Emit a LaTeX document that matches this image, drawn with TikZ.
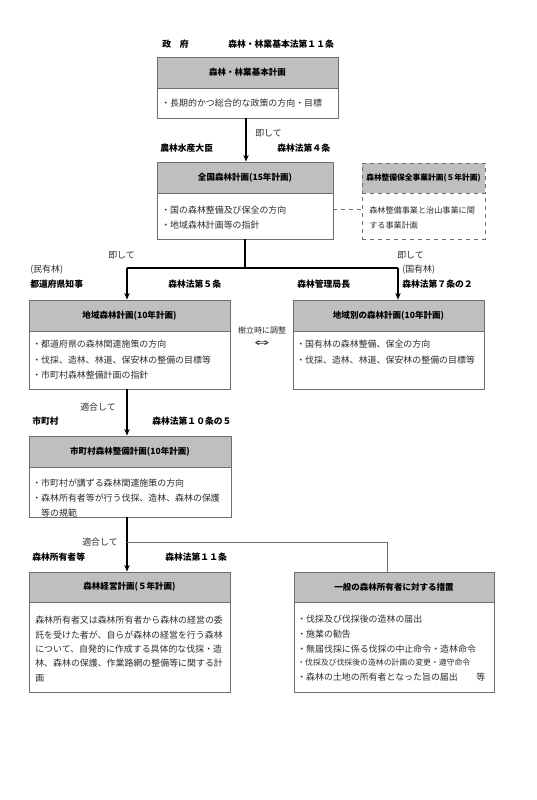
\documentclass[tikz,border=0pt]{standalone}
\usepackage{fontspec}
\setmainfont{Noto Sans CJK JP}
\newfontfamily\symf{DejaVu Sans}
\usetikzlibrary{fit,arrows.meta}
\definecolor{hdrgray}{RGB}{191,191,191}
\definecolor{edge}{RGB}{110,110,110}
\definecolor{txt}{RGB}{45,45,45}
\tikzset{
 hdr/.style={draw=edge, fill=hdrgray, line width=0.6pt, inner sep=0pt},
 htxt/.style={anchor=center, inner sep=0pt, font=\fontsize{6.4pt}{8pt}\selectfont\bfseries},
 bodybox/.style={draw=edge, fill=white, line width=0.6pt, inner sep=0pt},
 btxt/.style={anchor=west, inner sep=0pt, font=\fontsize{6.7pt}{8pt}\selectfont, text=txt},
 stxt/.style={anchor=west, inner sep=0pt, font=\fontsize{5.9pt}{8pt}\selectfont, text=txt},
 ctxt/.style={anchor=center, inner sep=0pt, font=\fontsize{6.0pt}{8pt}\selectfont, text=txt},
 lbl/.style={anchor=west, inner sep=0pt, font=\fontsize{6.6pt}{8pt}\selectfont\bfseries},
 arr/.style={line width=1.3pt, -{Stealth[length=5pt,width=4pt]}},
 trunk/.style={line width=1.3pt},
 thin/.style={draw=edge, line width=0.6pt},
}
\begin{document}
\begin{tikzpicture}[x=0.75pt,y=-0.75pt]
\useasboundingbox[fill=white] (0,0) rectangle (536,800);

% labels top
\node[lbl] (l1) at (162,44) {政　府};
\node[lbl] (l2) at (228,44) {森林・林業基本法第１１条};

% box 1
\node[bodybox, fit={(157,88) (338,118)}] (b1) {};
\node[hdr, fit={(157,57) (338,88)}] (h1) {};
\node[htxt] (ht1) at (h1.center) {森林・林業基本計画};
\node[btxt] (t1) at (161,103) {・長期的かつ総合的な政策の方向・目標};

\node[btxt] (s1) at (255,133) {即して};
\node[lbl] (l3) at (160,148) {農林水産大臣};
\node[lbl] (l4) at (277,148) {森林法第４条};

% box 2
\node[bodybox, fit={(157,193) (333,239)}] (b2) {};
\node[hdr, fit={(157,162) (333,193)}] (h2) {};
\node[htxt] (ht2) at (h2.center) {全国森林計画(15年計画)};
\node[btxt] (t2a) at (161,210) {・国の森林整備及び保全の方向};
\node[btxt] (t2b) at (161,225) {・地域森林計画等の指針};

% dashed box
\node[bodybox, dashed, fit={(362,193) (485,239)}] (db) {};
\node[hdr, dashed, fit={(362,163) (485,193)}] (dh) {};
\node[htxt, font=\fontsize{5.8pt}{8pt}\selectfont\bfseries] (dht) at (dh.center) {森林整備保全事業計画(５年計画)};
\node[btxt, font=\fontsize{6.1pt}{8pt}\selectfont] (td1) at (369,210) {森林整備事業と治山事業に関};
\node[btxt, font=\fontsize{6.1pt}{8pt}\selectfont] (td2) at (369,225) {する事業計画};

% labels mid
\node[btxt] (s2) at (108,255) {即して};
\node[btxt] (s3) at (397,255) {即して};
\node[btxt] (l5) at (30,270) {(民有林)};
\node[lbl] (l6) at (30,284) {都道府県知事};
\node[lbl] (l7) at (168,284) {森林法第５条};
\node[lbl] (l8) at (297,284) {森林管理局長};
\node[btxt] (l9) at (402,270) {(国有林)};
\node[lbl] (l10) at (402,284) {森林法第７条の２};

% box 3
\node[bodybox, fit={(29,331) (230,389)}] (b3) {};
\node[hdr, fit={(29,300) (230,331)}] (h3) {};
\node[htxt] (ht3) at (h3.center) {地域森林計画(10年計画)};
\node[btxt] (t3a) at (32,344) {・都道府県の森林関連施策の方向};
\node[btxt] (t3b) at (32,360) {・伐採、造林、林道、保安林の整備の目標等};
\node[btxt] (t3c) at (32,375) {・市町村森林整備計画の指針};

% box 3b
\node[bodybox, fit={(293,331) (484,389)}] (b3b) {};
\node[hdr, fit={(293,300) (484,331)}] (h3b) {};
\node[htxt] (ht3b) at (h3b.center) {地域別の森林計画(10年計画)};
\node[btxt] (t3d) at (296,344) {・国有林の森林整備、保全の方向};
\node[btxt] (t3e) at (296,360) {・伐採、造林、林道、保安林の整備の目標等};

\node[ctxt] (adj) at (262,330) {樹立時に調整};
\node[inner sep=0pt, font=\symf\fontsize{8pt}{8pt}\selectfont, text=txt] (dbl) at (262,344) {\scalebox{1.7}[1]{⇔}};

% box 4
\node[btxt] (s4) at (80,407) {適合して};
\node[lbl] (l11) at (32,421) {市町村};
\node[lbl] (l12) at (152,421) {森林法第１０条の５};
\node[bodybox, fit={(29,467) (231,517)}] (b4) {};
\node[hdr, fit={(29,436) (231,467)}] (h4) {};
\node[htxt] (ht4) at (h4.center) {市町村森林整備計画(10年計画)};
\node[btxt] (t4a) at (32,483) {・市町村が講ずる森林関連施策の方向};
\node[btxt] (t4b) at (32,498) {・森林所有者等が行う伐採、造林、森林の保護};
\node[btxt] (t4c) at (32,513) {\hphantom{・}等の規範};

% box 5
\node[btxt] (s5) at (82,542) {適合して};
\node[lbl] (l13) at (32,557) {森林所有者等};
\node[lbl] (l14) at (165,557) {森林法第１１条};
\node[bodybox, fit={(29,602) (230,692)}] (b5) {};
\node[hdr, fit={(29,572) (230,602)}] (h5) {};
\node[htxt] (ht5) at (h5.center) {森林経営計画(５年計画)};
\node[btxt] (t5a) at (35,620) {森林所有者又は森林所有者から森林の経営の委};
\node[btxt] (t5b) at (35,635) {託を受けた者が、自らが森林の経営を行う森林};
\node[btxt] (t5c) at (35,649) {について、自発的に作成する具体的な伐採・造};
\node[btxt] (t5d) at (35,663) {林、森林の保護、作業路網の整備等に関する計};
\node[btxt] (t5e) at (35,678) {画};

% box 6
\node[bodybox, fit={(294,602) (494,692)}] (b6) {};
\node[hdr, fit={(294,572) (494,602)}] (h6) {};
\node[htxt] (ht6) at (h6.center) {一般の森林所有者に対する措置};
\node[btxt] (t6a) at (297,619) {・伐採及び伐採後の造林の届出};
\node[btxt] (t6b) at (297,634) {・施業の勧告};
\node[btxt] (t6c) at (297,649) {・無届伐採に係る伐採の中止命令・造林命令};
\node[stxt] (t6d) at (297,663) {・伐採及び伐採後の造林の計画の変更・遵守命令};
\node[btxt] (t6e) at (297,677) {・森林の土地の所有者となった旨の届出};
\node[btxt] (t6f) at (476,677) {等};

% connectors
\coordinate (jn) at (245,268);
\coordinate (jl) at (127,268);
\coordinate (jr) at (398,268);
\coordinate (dy) at (0,209);
\coordinate (br) at (127,542);
\coordinate (tr) at (387,542);

\draw[arr] (b1.south -| 246,0) -- (h2.north -| 246,0);
\draw[trunk] (b2.south -| jn) -- (jn);
\draw[trunk] (jl) -- (jr);
\draw[arr] (jl) -- (jl |- h3.north);
\draw[arr] (jr) -- (jr |- h3b.north);
\draw[arr] (b3.south -| jl) -- (h4.north -| jl);
\draw[arr] (b4.south -| jl) -- (h5.north -| jl);
\draw[thin] (br) -- (tr) -- (tr |- h6.north);
\draw[thin, dashed] (b2.east |- dy) -- (db.west |- dy);
\end{tikzpicture}
\end{document}
